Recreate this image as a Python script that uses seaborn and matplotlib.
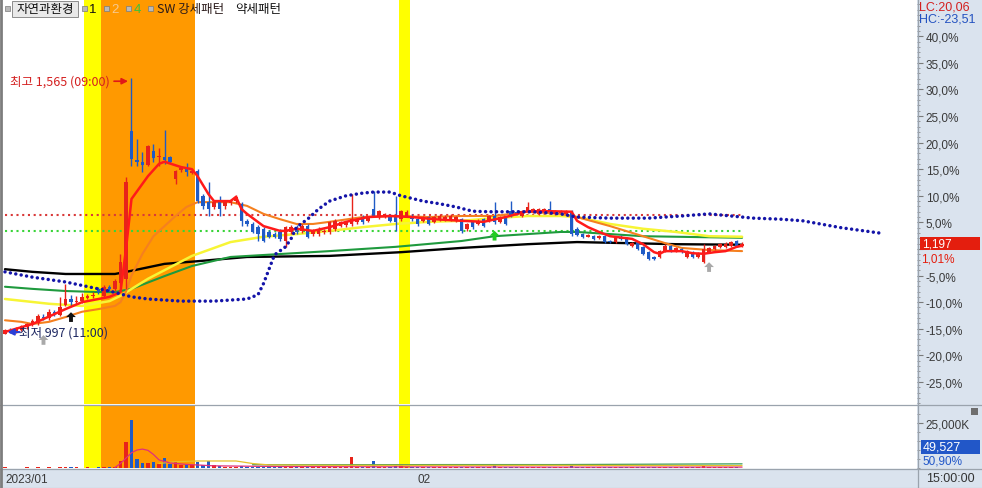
import numpy as np
import pandas as pd
import matplotlib
matplotlib.use("Agg")
import matplotlib.pyplot as plt
import seaborn as sns
from matplotlib.patches import Rectangle
from matplotlib.lines import Line2D
from matplotlib.path import Path
from matplotlib.ticker import MultipleLocator
from matplotlib.transforms import offset_copy, blended_transform_factory
from matplotlib import font_manager

# ---------------- data (percent change vs. base price) ----------------
base_price = 1185

opens = [
    -15.9, -15.4, -15.6, -15.2, -14.7, -14.3, -13.9, -12.8, -13.0, -11.8,
    -12.4, -10.5, -9.4, -10.0, -9.8, -9.2, -8.8, -7.5, -8.8, -7.1,
    -7.5, -6.4, -5.6, 22.2, 16.7, 16.4, 15.8, 18.4, 17.3, 17.3,
    17.3, 13.2, 14.9, 15.2, 14.3, 14.7, 10.0, 8.8, 7.9, 9.0,
    8.1, 8.6, 9.0, 8.5, 5.3, 4.7, 4.1, 3.8, 3.2, 2.8,
    3.2, 1.5, 3.2, 4.1, 3.4, 4.3, 2.8, 2.8, 3.2, 3.2,
    3.8, 4.3, 4.5, 4.7, 5.1, 6.0, 5.3, 7.5, 6.0, 6.0,
    6.2, 6.2, 5.6, 6.2, 6.2, 5.6, 5.3, 6.0, 5.1, 5.6,
    5.6, 5.6, 5.3, 5.6, 3.8, 5.1, 4.7, 5.6, 5.3, 6.2,
    5.1, 6.0, 7.1, 7.0, 6.2, 7.1, 7.0, 6.6, 7.0, 7.5,
    6.6, 6.8, 6.6, 7.0, 3.8, 2.8, 2.3, 2.4, 2.0, 2.4,
    1.5, 1.3, 2.3, 1.9, 0.6, 1.3, 0.4, -0.6, -1.5, -1.5,
    -0.4, 0.6, -0.4, 0.0, -1.5, -0.6, -1.5, -2.4, -0.6, 0.0,
    0.4, 0.4, 0.6, 1.5, 0.6]

highs = [
    -15.0, -14.9, -14.7, -14.3, -13.9, -13.2, -12.2, -12.2, -11.3, -11.5,
    -9.0, -6.6, -8.6, -8.8, -8.3, -8.5, -8.1, -7.1, -6.8, -6.8,
    -5.6, -0.9, 13.5, 32.1, 20.7, 18.2, 19.6, 19.7, 19.0, 22.4,
    17.5, 14.9, 15.6, 16.2, 15.0, 15.0, 10.3, 12.6, 9.2, 10.0,
    9.2, 9.4, 10.2, 8.8, 5.6, 5.1, 4.5, 4.1, 3.6, 3.2,
    3.8, 4.3, 4.5, 4.5, 4.7, 4.7, 3.8, 4.1, 3.8, 5.3,
    5.6, 5.3, 5.3, 10.3, 5.8, 6.4, 6.2, 10.9, 7.3, 6.8,
    6.6, 10.0, 7.3, 7.3, 6.6, 5.8, 6.2, 6.2, 6.2, 6.6,
    6.4, 6.6, 6.2, 5.8, 4.9, 5.3, 5.6, 5.8, 6.4, 8.8,
    6.2, 6.2, 9.0, 7.3, 7.3, 8.8, 7.7, 7.7, 7.7, 9.0,
    7.3, 7.3, 7.3, 7.3, 4.1, 3.0, 2.8, 2.6, 2.6, 2.6,
    1.7, 2.4, 2.6, 2.2, 1.3, 1.5, 0.6, -0.4, -1.3, -0.2,
    0.9, 0.8, 0.4, 0.2, -0.2, -0.4, -0.6, 0.9, 0.4, 0.8,
    1.1, 1.3, 1.5, 1.7, 1.3]

lows = [
    -15.9, -15.8, -15.7, -15.4, -15.0, -14.5, -14.3, -13.4, -13.3, -12.6,
    -12.6, -10.7, -10.7, -10.3, -10.2, -9.4, -9.2, -8.5, -9.0, -7.9,
    -7.9, -7.1, -7.5, 15.6, 15.6, 14.5, 15.6, 16.4, 15.6, 16.0,
    16.2, 12.2, 14.5, 13.7, 14.1, 8.6, 7.5, 6.2, 7.5, 6.2,
    7.5, 8.3, 8.6, 4.3, 4.3, 3.0, 1.5, 1.3, 2.0, 2.0,
    1.5, 0.4, 2.8, 2.8, 3.0, 2.0, 2.4, 2.4, 2.8, 2.8,
    3.4, 4.1, 4.1, 4.3, 4.7, 4.7, 5.1, 6.0, 5.6, 5.8,
    5.1, 3.4, 5.3, 6.0, 5.3, 4.3, 5.1, 4.5, 4.9, 5.3,
    5.3, 5.3, 5.1, 3.0, 3.4, 3.8, 4.5, 4.1, 5.1, 4.7,
    4.9, 4.5, 6.0, 6.4, 6.0, 6.8, 6.8, 6.4, 6.8, 7.0,
    6.4, 6.6, 6.4, 2.4, 2.4, 2.0, 2.2, 1.7, 1.9, 1.1,
    1.1, 1.1, 1.7, 0.8, 0.4, -0.2, -1.1, -2.1, -2.0, -1.7,
    -0.6, -0.6, -0.6, -0.8, -1.7, -1.7, -1.7, -2.6, -0.8, -0.2,
    0.2, 0.2, 0.4, 0.4, 0.4]

closes = [
    -15.2, -15.6, -15.0, -14.5, -14.1, -13.5, -12.6, -13.0, -11.8, -12.2,
    -10.9, -9.4, -10.0, -9.8, -9.0, -8.8, -8.6, -8.1, -7.1, -7.5,
    -6.0, -2.4, 12.6, 16.9, 16.4, 15.8, 19.4, 17.1, 17.5, 16.7,
    16.4, 14.7, 15.2, 14.5, 14.7, 9.0, 8.1, 7.5, 8.8, 7.5,
    8.8, 9.0, 9.8, 5.3, 4.7, 3.2, 2.8, 1.5, 2.3, 2.3,
    1.9, 4.1, 4.1, 3.2, 4.3, 2.3, 3.4, 3.8, 3.4, 5.1,
    5.3, 5.1, 5.1, 5.6, 5.6, 5.1, 6.0, 6.2, 7.1, 6.6,
    5.3, 5.1, 7.1, 7.0, 5.6, 4.7, 6.0, 4.7, 6.0, 6.2,
    6.0, 6.2, 6.0, 3.4, 4.7, 4.1, 5.3, 4.3, 6.2, 5.1,
    6.0, 4.7, 6.2, 6.6, 7.1, 7.9, 7.5, 7.5, 7.5, 7.1,
    7.1, 7.1, 7.1, 2.8, 2.6, 2.3, 2.6, 1.9, 2.4, 1.3,
    1.3, 2.3, 1.9, 0.9, 1.1, 0.0, -0.9, -1.9, -1.9, -0.4,
    0.6, -0.4, 0.2, -0.6, -0.4, -1.5, -0.8, 0.0, 0.2, 0.6,
    0.9, 0.9, 1.3, 0.6, 1.01]

volumes_k = [
    300, 250, 200, 250, 300, 250, 300, 250, 300, 250,
    400, 700, 650, 300, 250, 300, 250, 350, 400, 350,
    500, 4000, 14400, 26800, 5000, 2800, 2800, 3500, 2000, 5400,
    2000, 3500, 1800, 1800, 1500, 3100, 1500, 3900, 1500, 900,
    800, 700, 800, 1200, 700, 600, 700, 800, 600, 500,
    600, 900, 500, 400, 500, 600, 400, 400, 300, 500,
    600, 400, 500, 5900, 700, 500, 600, 3900, 700, 500,
    400, 900, 2200, 600, 500, 400, 400, 300, 400, 300,
    300, 300, 400, 700, 500, 400, 400, 500, 600, 1800,
    500, 400, 700, 400, 400, 500, 400, 300, 300, 500,
    400, 300, 300, 1500, 800, 500, 400, 300, 400, 500,
    400, 400, 300, 500, 400, 500, 600, 700, 400, 500,
    600, 400, 300, 300, 500, 400, 300, 900, 500, 400,
    300, 400, 500, 400, 50]

# moving-average lines (bar index, percent)
ma_red_idx = [0, 5, 11, 14, 17, 19, 21, 22, 23, 26, 28, 29, 32, 34, 35, 37, 38, 41, 42, 43,
              44, 47, 50, 51, 53, 56, 59, 62, 66, 70, 74, 78, 83, 87, 91, 95, 99, 103, 104, 106,
              108, 110, 114, 116, 118, 119, 120, 123, 125, 127, 129, 131, 133, 134]
ma_red_val = [-15.6, -14.1, -11.3, -10.0, -9.4, -9.0, -8.1, 0.0, 9.4, 13.7, 16.0, 16.4, 15.4, 15.0, 13.7,
              10.3, 9.0, 9.0, 9.8, 7.5, 6.6, 4.3, 3.4, 3.4, 3.8, 3.4, 4.1, 5.1, 6.0, 6.2, 6.0, 5.6,
              5.3, 5.1, 6.0, 7.1, 7.1, 7.0, 5.3, 4.1, 3.2, 2.4, 1.9, 0.9, -0.6, -0.9, -0.4, -0.4,
              -0.8, -0.9, -0.6, -0.4, 0.4, 0.6]
ma_orange_idx = [0, 3, 5, 8, 11, 14, 17, 20, 21, 22, 23, 25, 27, 29, 31, 33, 35, 37, 41, 44,
                 47, 50, 53, 56, 59, 65, 71, 77, 83, 89, 95, 101, 104, 110, 116, 120, 123, 128, 134]
ma_orange_val = [-13.4, -13.7, -14.1, -13.7, -12.8, -11.8, -11.3, -10.7, -10.0, -8.0, -5.0, -0.9, 2.4,
                 4.3, 6.2, 7.9, 8.8, 8.8, 8.8, 8.1, 6.6, 5.6, 4.7, 4.7, 5.1, 6.0, 6.2, 6.0, 6.2, 6.2,
                 7.0, 6.6, 6.0, 4.3, 2.4, 1.1, 0.2, -0.2, -0.4]
ma_yellow_idx = [0, 8, 14, 19, 21, 26, 34, 41, 47, 53, 59, 65, 71, 77, 83, 89, 95, 101, 104, 110,
                 116, 122, 128, 134]
ma_yellow_val = [-9.4, -10.3, -10.7, -9.8, -8.8, -5.6, -1.3, 1.3, 2.3, 2.8, 3.4, 4.1, 4.7, 5.1, 5.3,
                 5.8, 6.2, 6.2, 6.0, 4.7, 3.8, 3.2, 2.4, 2.3]
ma_green_idx = [0, 5, 11, 17, 20, 23, 29, 34, 41, 59, 71, 83, 89, 101, 104, 116, 134]
ma_green_val = [-7.1, -7.5, -7.9, -8.1, -8.1, -7.5, -5.1, -3.2, -1.5, -0.4, 0.4, 1.5, 2.4, 3.2, 3.2,
                2.4, 2.1]
ma_black_idx = [0, 5, 11, 20, 23, 29, 35, 44, 59, 72, 83, 95, 104, 122, 134]
ma_black_val = [-3.8, -4.3, -4.7, -4.7, -4.1, -2.8, -2.3, -1.5, -1.3, -0.6, 0.2, 0.9, 1.3, 0.9, 0.8]
lead_idx = [0, 5, 11, 17, 19, 23, 26, 32, 38, 44, 46, 47, 48, 49, 51, 52, 53, 55, 57, 59,
            62, 65, 67, 70, 72, 76, 79, 82, 85, 88, 92, 96, 101, 104, 110, 117, 123, 128, 132, 136,
            141, 145, 152, 159]
lead_val = [-4.3, -5.3, -6.2, -7.5, -7.9, -9.0, -9.4, -9.8, -9.8, -9.4, -8.6, -6.5, -3.8, -1.1, 0.4,
            1.9, 4.1, 5.6, 7.5, 9.0, 10.0, 10.5, 10.7, 10.7, 10.0, 9.0, 8.5, 7.9, 7.1, 7.0, 7.0,
            7.0, 6.6, 6.0, 5.8, 5.8, 6.2, 6.6, 6.2, 5.8, 5.6, 5.3, 4.0, 3.0]
resist_level = 6.4
support_level = 3.4

vma_pink_idx = [20, 21, 22, 23, 24, 25, 26, 27, 28, 30, 33, 38, 50, 63, 80, 100, 134]
vma_pink_val = [300, 2500, 5500, 8500, 10000, 10500, 9800, 7500, 4500, 2800, 2000, 1200, 800, 700,
                600, 500, 500]
vma_yellow_idx = [28, 31, 35, 42, 45, 48, 60, 100, 134]
vma_yellow_val = [2500, 3500, 3900, 3900, 2500, 1700, 1500, 1500, 1300]
vma_green_idx = [45, 60, 80, 100, 125, 134]
vma_green_val = [1800, 1800, 1900, 1900, 2200, 2300]

yellow_spans = [(14.4, 17.5), (71.6, 73.6)]
orange_spans = [(17.5, 34.5)]
signal_idx = [7, 12, 89, 128]
signal_pct = [-17.1, -12.8, 2.5, -3.4]
signal_color = ["#a9a9a9", "#111111", "#22cc22", "#a9a9a9"]
month_idx = [0, 75]
month_labels = ["2023/01", "02"]
pct_ticks = [-25, -20, -15, -10, -5, 0, 5, 10, 15, 20, 25, 30, 35, 40]

# ---------------- style ----------------
sns.set_style("white")
avail = {f.name for f in font_manager.fontManager.ttflist}
if "Liberation Sans Narrow" in avail:
    NUM = ["Liberation Sans Narrow", "DejaVu Sans"]
    NS = 9.5
else:
    NUM = ["Liberation Sans", "DejaVu Sans"]
    NS = 8.5
KR = ["Noto Sans CJK KR", "DejaVu Sans"]
plt.rcParams["font.family"] = KR
plt.rcParams["axes.unicode_minus"] = False

RED = "#e8231a"
BLUE = "#1f5bc6"
W, H = 982, 489
fig = plt.figure(figsize=(W / 100, H / 100), dpi=100)
fig.patch.set_facecolor("white")


def fx(px):
    return px / W


def fy(py):
    return 1 - py / H


STRIP = "#dae3ee"
fig.add_artist(Rectangle((fx(917), 0), fx(982) - fx(917), 1, transform=fig.transFigure,
                         color=STRIP, zorder=0))
fig.add_artist(Rectangle((0, 0), 1, fy(470), transform=fig.transFigure, color=STRIP, zorder=0))

ax = fig.add_axes([fx(3), fy(405), fx(917) - fx(3), fy(0) - fy(405)])
axv = fig.add_axes([fx(3), fy(469), fx(917) - fx(3), fy(406) - fy(469)], sharex=ax)
for a in (ax, axv):
    a.set_facecolor("white")
    for s in a.spines.values():
        s.set_visible(False)
    for (s0, s1) in yellow_spans:
        a.axvspan(s0, s1, color="#ffff00", lw=0, zorder=0)
    for (s0, s1) in orange_spans:
        a.axvspan(s0, s1, color="#ff9900", lw=0, zorder=0)

ax.set_xlim(-0.36, 165.8)
ax.set_ylim(-29.14, 46.99)
axv.set_ylim(0, 35000)

o = np.array(opens); h = np.array(highs); l = np.array(lows); c = np.array(closes)
n = len(c)
idx = np.arange(n)
colors = np.where(c >= o, RED, BLUE)

# horizontal dotted levels
sns.lineplot(x=[0, n - 1], y=[resist_level, resist_level], ax=ax, color="#d93a3a", lw=1.5,
             linestyle=(0, (1.0, 1.75)), zorder=1)
sns.lineplot(x=[0, n - 1], y=[support_level, support_level], ax=ax, color="#3ad43a", lw=1.5,
             linestyle=(0, (1.0, 1.75)), zorder=1)

# moving averages
sns.lineplot(x=ma_black_idx, y=ma_black_val, ax=ax, color="#000000", lw=1.7, zorder=2)
sns.lineplot(x=ma_green_idx, y=ma_green_val, ax=ax, color="#1f9a3e", lw=1.5, zorder=2)
sns.lineplot(x=ma_yellow_idx, y=ma_yellow_val, ax=ax, color="#f7f535", lw=1.8, zorder=2)
sns.lineplot(x=ma_orange_idx, y=ma_orange_val, ax=ax, color="#f5801f", lw=1.5, zorder=2)

# candles
ax.vlines(idx, l, h, colors=colors, lw=1.0, zorder=3)
body_lo = np.minimum(o, c)
body_h = np.maximum(np.abs(c - o), 0.2)
ax.bar(idx, body_h, bottom=body_lo, width=0.62, color=colors, lw=0, zorder=3)

sns.lineplot(x=ma_red_idx, y=ma_red_val, ax=ax, color="#ff1a1a", lw=1.8, zorder=4)
sns.lineplot(x=lead_idx, y=lead_val, ax=ax, color="#1414a8", lw=2.5,
             linestyle=(0, (0.01, 1.57)), dash_capstyle="round", zorder=5)

# signal arrows
arrow_path = Path([(0, 0.5), (0.5, 0.0), (0.2, 0.0), (0.2, -0.5), (-0.2, -0.5), (-0.2, 0.0),
                   (-0.5, 0.0), (0, 0.5)],
                  [Path.MOVETO] + [Path.LINETO] * 6 + [Path.CLOSEPOLY])
ax.scatter(signal_idx, signal_pct, marker=arrow_path, s=49, c=signal_color, linewidths=0, zorder=6)

# high / low annotations
ih = int(np.argmax(h)); hv = h[ih]
il = int(np.argmin(l)); lv = l[il]
p_high = int(round(base_price * (1 + hv / 100)))
p_low = int(round(base_price * (1 + lv / 100)))
p_last = int(round(base_price * (1 + c[-1] / 100)))
tip_h = offset_copy(ax.transData, fig=fig, x=-3.5, y=-3, units="dots")
ax.annotate("", xy=(ih, hv), xycoords=tip_h, xytext=(-14, 0), textcoords="offset pixels",
            arrowprops=dict(arrowstyle="-|>", color="#e01818", lw=1.2, shrinkA=0, shrinkB=0,
                            mutation_scale=9), zorder=7)
ax.annotate(f"최고 {p_high:,} (09:00)", xy=(ih, hv), xycoords=tip_h, xytext=(-18, 0),
            textcoords="offset pixels", ha="right", va="center", color="#d42020", fontsize=9,
            family=KR, zorder=7)
tip_l = offset_copy(ax.transData, fig=fig, x=2.5, y=1.5, units="dots")
ax.annotate("", xy=(il, lv), xycoords=tip_l, xytext=(12, 0), textcoords="offset pixels",
            arrowprops=dict(arrowstyle="-|>", color="#2a3fd6", lw=1.5, shrinkA=0, shrinkB=0,
                            mutation_scale=9), zorder=7)
ax.annotate(f"최저 {p_low:,} (11:00)", xy=(il, lv), xycoords=tip_l, xytext=(12, 0),
            textcoords="offset pixels", ha="left", va="center", color="#1c2660", fontsize=9,
            family=KR, zorder=7)

# right price axis (the 0% label sits under the current-price box, so it is left blank)
ax.yaxis.tick_right()
ax.set_yticks(pct_ticks)
ax.set_yticklabels(["" if v == 0 else f"{v:.1f}".replace(".", ",") + "%" for v in pct_ticks])
ax.yaxis.set_minor_locator(MultipleLocator(1))
ax.tick_params(axis="y", which="major", length=4, width=0.8, color="#7a7a7a", pad=2.2,
               labelsize=NS, labelcolor="#3a3a3a", left=False)
ax.tick_params(axis="y", which="minor", length=2, width=0.6, color="#8a8a8a", left=False)
ax.tick_params(axis="x", which="both", bottom=False, labelbottom=False)
for t in ax.get_yticklabels():
    t.set_fontfamily(NUM)

# volume panel
axv.bar(idx, volumes_k, width=0.62, color=colors, lw=0, zorder=3)
sns.lineplot(x=vma_green_idx, y=vma_green_val, ax=axv, color="#3a9a55", lw=0.9, zorder=4)
sns.lineplot(x=vma_yellow_idx, y=vma_yellow_val, ax=axv, color="#e6c12a", lw=0.9, zorder=4)
sns.lineplot(x=vma_pink_idx, y=vma_pink_val, ax=axv, color="#e0307a", lw=0.9, zorder=4)
axv.yaxis.tick_right()
axv.set_yticks([25000])
axv.set_yticklabels(["25,000K"])
axv.yaxis.set_minor_locator(MultipleLocator(5000))
axv.tick_params(axis="y", which="major", length=4, width=0.8, color="#7a7a7a", pad=2.2,
                labelsize=NS, labelcolor="#3a3a3a", left=False)
axv.tick_params(axis="y", which="minor", length=2, width=0.6, color="#8a8a8a", left=False)
axv.set_xticks(month_idx)
axv.set_xticklabels(month_labels)
axv.set_xticks([month_idx[1]], minor=True)
axv.tick_params(axis="x", which="major", length=0, pad=3.4, labelsize=NS, labelcolor="#3a3a3a")
axv.tick_params(axis="x", which="minor", length=14, width=0.8, color="#9aa3ad")
for t in axv.get_xticklabels():
    t.set_fontfamily(NUM)
    t.set_horizontalalignment("left")
for t in axv.get_yticklabels():
    t.set_fontfamily(NUM)
axv.set_xlabel(""); axv.set_ylabel(""); ax.set_xlabel(""); ax.set_ylabel("")

# frame lines
LC = "#9aa3ad"
fig.add_artist(Line2D([fx(917.5)] * 2, [0, 1], transform=fig.transFigure, color=LC, lw=0.9))
fig.add_artist(Line2D([0, 1], [fy(405.5)] * 2, transform=fig.transFigure, color=LC, lw=0.9))
fig.add_artist(Line2D([0, 1], [fy(469.5)] * 2, transform=fig.transFigure, color=LC, lw=0.9))
fig.add_artist(Line2D([fx(1)] * 2, [0, 1], transform=fig.transFigure, color="#7d7d7d", lw=2.0))
fig.add_artist(Line2D([0, 1], [fy(488.5)] * 2, transform=fig.transFigure, color=LC, lw=0.8))


def ftext(xp, yp, s, **kw):
    fig.text(fx(xp), fy(yp), s, **kw)


# header
for xs in (5, 82, 104, 126, 148):
    fig.add_artist(Rectangle((fx(xs), fy(12)), 5 / W, 5 / H, transform=fig.transFigure,
                             fc="#b9b9b9", ec="#7a7a7a", lw=0.5, zorder=8))
fig.add_artist(Rectangle((fx(12), fy(18)), 66 / W, 16 / H, transform=fig.transFigure,
                         fc="#e9e9e9", ec="#8c8c8c", lw=0.7, zorder=8))
ftext(45, 10, "자연과환경", ha="center", va="center", fontsize=9, color="#111111", zorder=9)
ftext(93, 10, "1", ha="center", va="center", fontsize=9.5, color="#111111", family=NUM, zorder=9)
ftext(115, 10, "2", ha="center", va="center", fontsize=9.5, color="#f7c98f", family=NUM, zorder=9)
ftext(137, 10, "4", ha="center", va="center", fontsize=9.5, color="#3cc23c", family=NUM, zorder=9)
ftext(157, 10, "SW 강세패턴", ha="left", va="center", fontsize=9, color="#2a1a1a", zorder=9)
ftext(235, 10, "약세패턴", ha="left", va="center", fontsize=9, color="#111111", zorder=9)

# right-side labels
lc = (p_last / p_low - 1) * 100
hc = (p_last / p_high - 1) * 100
ftext(919, 8, f"LC:{lc:.2f}".replace(".", ","), ha="left", va="center", fontsize=NS + 0.5,
      color="#d42020", family=NUM)
ftext(919, 20, f"HC:{hc:.2f}".replace(".", ","), ha="left", va="center", fontsize=NS + 0.5,
      color="#2452c0", family=NUM)

trb = blended_transform_factory(fig.transFigure, ax.transData)
box_h = 13 / 5.323
fig.add_artist(Rectangle((fx(920), c[-1] - box_h / 2), 60 / W, box_h, transform=trb,
                         fc="#e41e0e", ec="none", zorder=8))
fig.text(fx(922), c[-1], f"{p_last:,}", transform=trb, ha="left", va="center", fontsize=NS,
         color="white", family=NUM, zorder=9)
fig.text(fx(921), c[-1] - 9.0 / 5.323, f"{c[-1]:.2f}".replace(".", ",") + "%", transform=trb,
         ha="left", va="top", fontsize=NS, color="#e41e0e", family=NUM, zorder=9)

fig.add_artist(Rectangle((fx(921), fy(455)), 59 / W, 14 / H, transform=fig.transFigure,
                         fc="#2257c8", ec="none", zorder=8))
ftext(923, 448, f"{int(volumes_k[-1] * 990.54):,}", ha="left", va="center", fontsize=NS + 0.5,
      color="white", family=NUM, zorder=9)
ftext(922, 456, "50,90%", ha="left", va="top", fontsize=NS, color="#2257c8",
      family=NUM, zorder=9)
fig.add_artist(Rectangle((fx(971), fy(416)), 7 / W, 7 / H, transform=fig.transFigure,
                         fc="#6e6e6e", ec="none", zorder=8))
ftext(926, 479, "15:00:00", ha="left", va="center", fontsize=NS + 0.5, color="#333333",
      family=NUM)

fig.savefig("out.png", dpi=100)
